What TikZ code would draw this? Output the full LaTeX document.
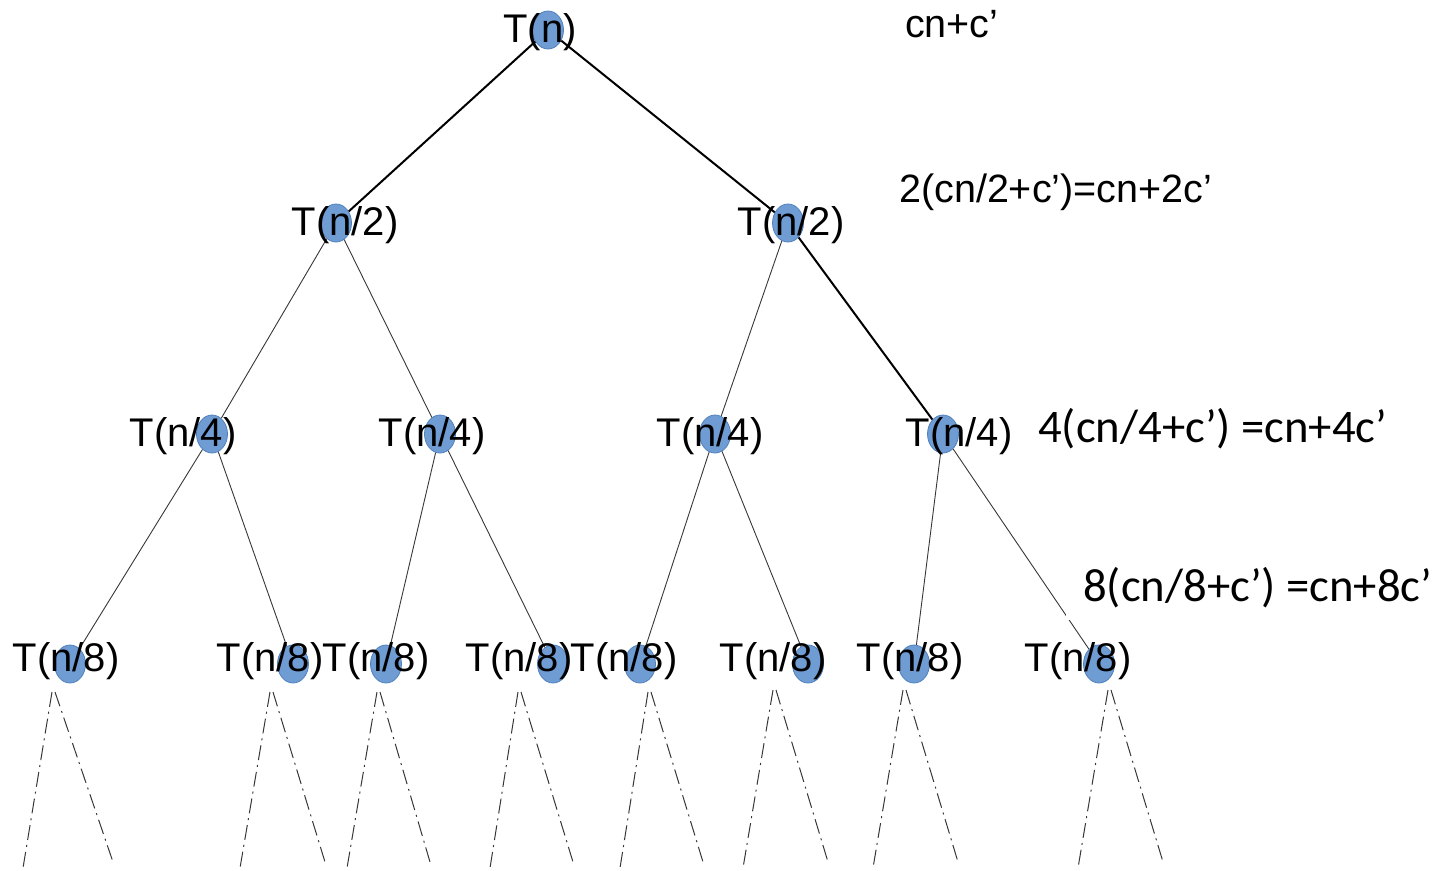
\documentclass[tikz,border=0pt]{standalone}
\usepackage{fontspec}
\setmainfont{Liberation Sans}
\newfontfamily\calib{Carlito}
\usetikzlibrary{shapes.geometric}
\definecolor{nodefill}{RGB}{112,156,212}
\definecolor{nodeline}{RGB}{79,129,189}
\definecolor{thinline}{RGB}{55,55,55}
\tikzset{
 blob/.style={ellipse, fill=nodefill, draw=nodeline, line width=0.8pt, minimum width=31pt, minimum height=38pt, inner sep=0pt},
 lab/.style={anchor=base, inner sep=0pt, font=\fontsize{40}{48}\selectfont},
 sumA/.style={anchor=base west, inner sep=0pt, font=\fontsize{39.5}{47}\selectfont},
 sumB/.style={anchor=base west, inner sep=0pt, font=\calib\fontsize{46.7}{56}\selectfont},
 thickedge/.style={line width=2pt, black},
 thinedge/.style={line width=0.9pt, thinline},
 moreline/.style={line width=1pt, thinline, dash pattern=on 15pt off 5pt on 2pt off 5pt},
}
\begin{document}
\begin{tikzpicture}[x=1pt,y=-1pt]
\useasboundingbox (0,0) rectangle (1434,870);
% ellipses
\node[blob] (r)  at (548,30) {};
\node[blob] (b1) at (336,223) {};
\node[blob] (b2) at (788,223) {};
\node[blob] (c1) at (212,434) {};
\node[blob] (c2) at (440,434) {};
\node[blob] (c3) at (715,434) {};
\node[blob] (c4) at (943,434) {};
\node[blob] (d1) at (70,664) {};
\node[blob] (d2) at (293,664) {};
\node[blob] (d3) at (386,664) {};
\node[blob] (d4) at (553,664) {};
\node[blob] (d5) at (640,664) {};
\node[blob] (d6) at (808,664) {};
\node[blob] (d7) at (914,664) {};
\node[blob] (d8) at (1099,664) {};
% edges
\draw[thickedge] (r) -- (b1);
\draw[thickedge] (r) -- (b2);
\draw[thinedge] (b1) -- (c1);
\draw[thinedge] (b1) -- (c2);
\draw[thinedge] (b2) -- (c3);
\draw[thickedge] (b2) -- (c4);
\draw[thinedge] (c1) -- (d1);
\draw[thinedge] (c1) -- (d2);
\draw[thinedge] (c2) -- (d3);
\draw[thinedge] (c2) -- (d4);
\draw[thinedge] (c3) -- (d5);
\draw[thinedge] (c3) -- (d6);
\draw[thinedge] (c4) -- (d7);
\draw[thinedge] (c4) -- (d8);
% continuation lines
\foreach \i/\ax/\ay/\lx/\rx in {1/52/692/23/113, 2/270/692/240/325, 3/377/692/347/430, 4/518/692/490/573, 5/648/692/620/703, 6/773/690/743/828, 7/903/690/873/958, 8/1108/690/1078/1163}{
  \coordinate (pl\i) at (\ax,\ay);
  \coordinate (pr\i) at (\ax+3,\ay);
  \coordinate (el\i) at (\lx,868);
  \coordinate (er\i) at (\rx,862);
  \draw[moreline] (pl\i) -- (el\i);
  \draw[moreline] (pr\i) -- (er\i);
}
% texts
\node[lab] (tr) at (540,42) {T(n)};
\node[lab] (tb1) at (345,235) {T(n/2)};
\node[lab] (tb2) at (791,235) {T(n/2)};
\node[lab] (tc1) at (183,446) {T(n/4)};
\node[lab] (tc2) at (432,446) {T(n/4)};
\node[lab] (tc3) at (710,446) {T(n/4)};
\node[lab] (tc4) at (959,446) {T(n/4)};
\node[lab] (td1) at (66,671) {T(n/8)};
\node[lab] (td2) at (270,671) {T(n/8)};
\node[lab] (td3) at (376,671) {T(n/8)};
\node[lab] (td4) at (519,671) {T(n/8)};
\node[lab] (td5) at (624,671) {T(n/8)};
\node[lab] (td6) at (773,671) {T(n/8)};
\node[lab] (td7) at (910,671) {T(n/8)};
\node[lab] (td8) at (1078,671) {T(n/8)};
% level sums
\node[sumA] (s0) at (905,37) {cn+c’};
\node[sumA] (s1) at (899,202) {2(cn/2+c’)=cn+2c’};
\node[sumB] (s2) at (1038,442) {4(cn/4+c’) =cn+4c’};
\node[sumB, fill=white, inner xsep=17pt, inner ysep=13pt] (s3) at (1066,601) {8(cn/8+c’) =cn+8c’};
\end{tikzpicture}
\end{document}
